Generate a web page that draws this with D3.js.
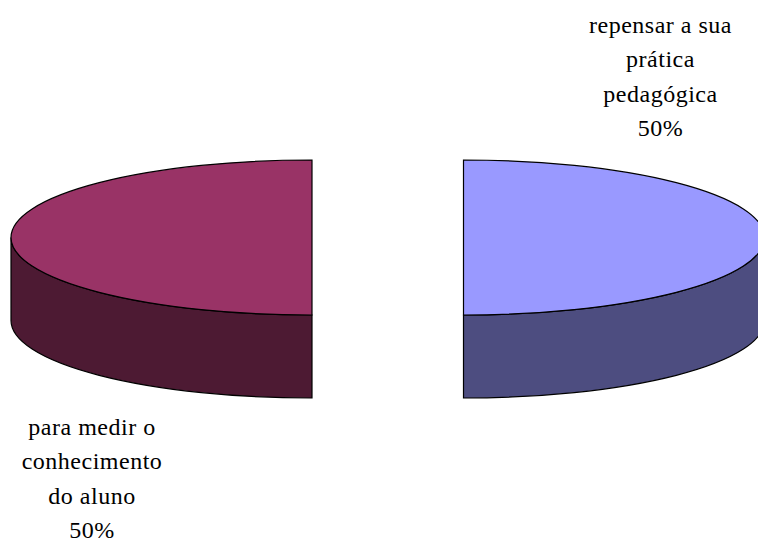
<!DOCTYPE html>
<html>
<head>
<meta charset="utf-8">
<title>Pie</title>
<script src="https://d3js.org/d3.v7.min.js"></script>
<style>
  html, body { margin: 0; padding: 0; background: #fff; overflow: hidden; }
  svg { display: block; }
  text { font-family: "Liberation Serif", serif; font-size: 24px; letter-spacing: 0.5px; fill: #000; text-anchor: middle; }
</style>
</head>
<body>
<div id="plot"></div>
<script>
var categories = ["repensar a sua prática pedagógica", "para medir o conhecimento do aluno"];
var values = [50, 50];
var labelLines = [
  ["repensar a sua", "prática", "pedagógica", "50%"],
  ["para medir o", "conhecimento", "do aluno", "50%"]
];
var topColors = ["#9999ff", "#993366"];
var sideColors = ["#4d4d80", "#4d1a33"];

var width = 758, height = 538;
var rx = 301, ry = 77.5, depth = 83;
var centers = [[463.5, 237.5], [312, 237.5]];
var labelPos = [[660.5, 33], [92, 435]];

var svg = d3.select("#plot").append("svg")
    .attr("width", width)
    .attr("height", height);

var pie = d3.pie().sort(null);
var arcs = pie(values);

// rim points on the squashed circle, angle 0 at top going clockwise
var sx = d3.scaleLinear().domain([-1, 1]).range([-rx, rx]);
var sy = d3.scaleLinear().domain([-1, 1]).range([-ry, ry]);

function pt(a, dy) {
  return [sx(Math.sin(a)), sy(-Math.cos(a)) + (dy || 0)];
}

function rim(a, dy, sweep) {
  var p = pt(a, dy);
  return "A" + rx + "," + ry + " 0 0," + sweep + " " + p[0] + "," + p[1];
}

function slicePath(a0, a1) {
  var s = pt(a0);
  return "M0,0L" + s[0] + "," + s[1] + rim(a1, 0, 1) + "Z";
}

// visible outer wall: lower part of the rim, pushed down by depth
function wallPath(a0, a1) {
  var lo = Math.max(a0, Math.PI / 2), hi = Math.min(a1, 3 * Math.PI / 2);
  var s = pt(lo), e = pt(hi, depth);
  return "M" + s[0] + "," + s[1] + rim(hi, 0, 1) +
    "L" + e[0] + "," + e[1] + rim(lo, depth, 0) + "Z";
}

var g = svg.selectAll("g.slice").data(arcs).enter().append("g")
    .attr("class", "slice")
    .attr("transform", function (d, i) { return "translate(" + centers[i][0] + "," + centers[i][1] + ")"; });

g.append("path")
    .attr("d", function (d) { return wallPath(d.startAngle, d.endAngle); })
    .attr("fill", function (d, i) { return sideColors[i]; })
    .attr("stroke", "#000")
    .attr("stroke-width", 1.2);

g.append("path")
    .attr("d", function (d) { return slicePath(d.startAngle, d.endAngle); })
    .attr("fill", function (d, i) { return topColors[i]; })
    .attr("stroke", "#000")
    .attr("stroke-width", 1.2);

labelLines.forEach(function (lines, i) {
  svg.append("text")
      .selectAll("tspan")
      .data(lines)
      .enter().append("tspan")
      .attr("x", labelPos[i][0])
      .attr("y", function (d, j) { return labelPos[i][1] + j * 34.3; })
      .text(function (d) { return d; });
});
</script>
</body>
</html>
